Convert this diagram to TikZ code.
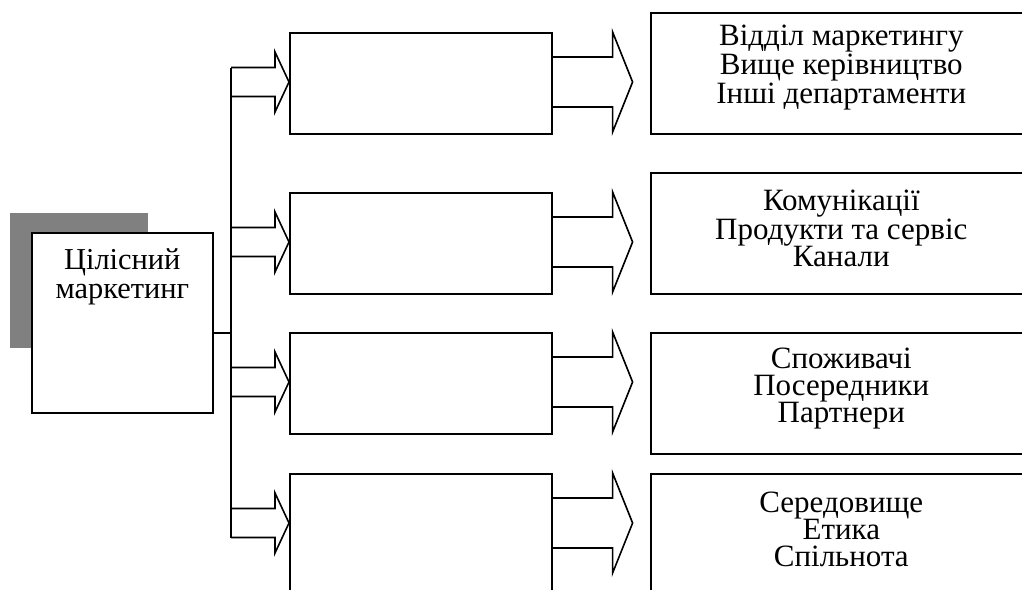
\documentclass[tikz,border=0pt]{standalone}
\usepackage{fontspec}
\setmainfont{Liberation Serif}
\usepackage{tikz}
\usetikzlibrary{positioning}
\usetikzlibrary{calc}
\definecolor{mgray}{rgb}{0.5, 0.5, 0.5}

\begin{document}
\begin{tikzpicture}[x=0.5pt, y=-0.5pt,
    box/.style={draw, line width=0.8pt, inner sep=0pt, anchor=north west},
    midbox/.style={box, minimum width=131pt, minimum height=50.5pt},
    listbox/.style={box, minimum width=190.5pt, minimum height=60.5pt},
    listtext/.style={align=center, inner sep=0pt, font=\fontsize{15.5}{13.5}\selectfont},
    blockarrow/.style={line width=0.8pt, line join=miter}]
    \clip (0, 0) rectangle (1022, 589);

    \fill [mgray] (10, 213) rectangle (148, 348);
    \node [box, fill=white, minimum width=90.5pt, minimum height=90pt] (main) at (31, 232) {};
    \node [listtext, anchor=north, font=\fontsize{15.2}{14.5}\selectfont] (maintext) at ([yshift=-8pt]main.north) {Цілісний\\маркетинг};

    \node [midbox] (m1) at (289, 32) {};
    \node [midbox] (m2) at (289, 192) {};
    \node [midbox] (m3) at (289, 332) {};
    \node [midbox, minimum height=65pt] (m4) at (289, 473) {};

    \node [listbox] (r1) at (650, 12) {};
    \node [listbox] (r2) at (650, 172) {};
    \node [listbox] (r3) at (650, 332) {};
    \node [listbox] (r4) at (650, 473) {};

    \node [listtext] (r1text) at ([yshift=3pt]r1.center) {Відділ маркетингу\\Вище керівництво\\Інші департаменти};
    \node [listtext] (r2text) at ([yshift=2.5pt]r2.center) {Комунікації\\Продукти та сервіс\\Канали};
    \node [listtext] (r3text) at ([yshift=2.5pt]r3.center) {Споживачі\\Посередники\\Партнери};
    \node [listtext] (r4text) at ([yshift=2.5pt]r4.center) {Середовище\\Етика\\Спільнота};

    \foreach \i in {1,...,4} {
      \coordinate (t\i) at ([yshift=-25pt]m\i.north west);
      \coordinate (s\i) at ([yshift=-25pt]m\i.north east);
      \draw [blockarrow] (t\i) ++(-58, -14.5) -- ++(44, 0) -- ++(0, -15.5) -- (t\i) -- ++(-14, 30) -- ++(0, -15.5) -- ++(-44, 0);
      \draw [blockarrow] (s\i) ++(0, -25) -- ++(60, 0) -- ++(0, -25) -- ++(20, 50) -- ++(-20, 50) -- ++(0, -25) -- ++(-60, 0);
    }

    \coordinate (bustop) at ($(t1) + (-58, -14.5)$);
    \coordinate (busbot) at ($(t4) + (-58, 14.5)$);
    \draw [blockarrow] (bustop) -- (busbot);
    \draw [blockarrow] ([yshift=-5pt]main.east) coordinate (mainout) -- (mainout -| bustop);
  \end{tikzpicture}
\end{document}
